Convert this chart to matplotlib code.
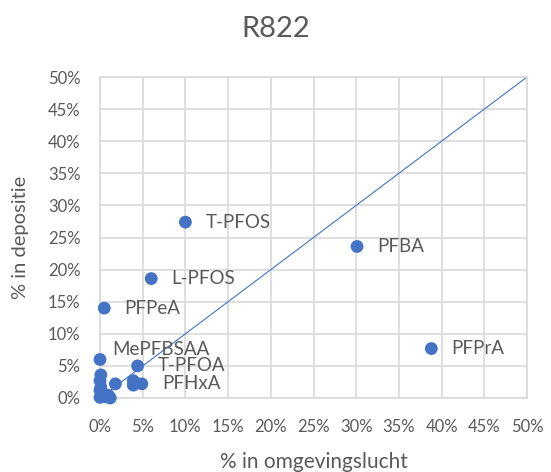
import matplotlib.pyplot as plt
from matplotlib.ticker import PercentFormatter, MultipleLocator

# Aandeel per stof: omgevingslucht (x) tegen depositie (y), in procent
stoffen = ["T-PFOS", "PFBA", "L-PFOS", "PFPeA", "PFPrA", "MePFBSAA", "T-PFOA", "PFHxA"]
lucht_gelabeld = [10.0, 30.1, 6.0, 0.5, 38.8, 0.0, 4.4, 4.9]
depositie_gelabeld = [27.4, 23.6, 18.6, 14.0, 7.7, 6.0, 5.0, 2.2]

# Overige stoffen zonder label (cluster rond de oorsprong)
lucht_overig = [0.1, 0.0, 1.8, 3.9, 3.9, 0.0, 0.2, 1.0, 0.1, 0.0, 1.2, 0.6, 0.3]
depositie_overig = [3.6, 2.7, 2.2, 2.7, 2.0, 1.2, 0.4, 0.4, 1.7, 0.1, 0.0, 0.2, 0.8]

# Verschuiving van de labels t.o.v. de punt (pixels)
label_offset = {"MePFBSAA": (12, 10)}

BLAUW = "#4472C4"
GRIJS = "#595959"
RASTER = "#D9D9D9"

plt.rcParams["font.family"] = ["Lato", "DejaVu Sans"]

fig = plt.figure(figsize=(5.51, 4.72), dpi=100)
ax = fig.add_axes([100 / 551, 1 - 398 / 472, 427 / 551, 321 / 472])

# diagonaal y = x
ax.plot([0, 50], [0, 50], color=BLAUW, linewidth=0.8, zorder=2)

x_all = lucht_gelabeld + lucht_overig
y_all = depositie_gelabeld + depositie_overig
ax.scatter(x_all, y_all, s=85, color=BLAUW, edgecolors="none", zorder=3, clip_on=False)

px = 0.72  # punten per pixel bij 100 dpi
for naam, x, y in zip(stoffen, lucht_gelabeld, depositie_gelabeld):
    dx, dy = label_offset.get(naam, (20, 0))
    ax.annotate(naam, (x, y), xytext=(dx * px, dy * px), textcoords="offset points",
                ha="left", va="center", fontsize=13.5, color=GRIJS, zorder=4,
                annotation_clip=False)

ax.set_xlim(0, 50)
ax.set_ylim(0, 50)
ax.xaxis.set_major_locator(MultipleLocator(5))
ax.yaxis.set_major_locator(MultipleLocator(5))
ax.xaxis.set_major_formatter(PercentFormatter(decimals=0))
ax.yaxis.set_major_formatter(PercentFormatter(decimals=0))
ax.tick_params(length=0, labelsize=12, labelcolor=GRIJS)
ax.tick_params(axis="y", pad=14)
ax.tick_params(axis="x", pad=15)

ax.grid(True, color=RASTER, linewidth=1.2, zorder=0)
ax.set_axisbelow(True)
for spine in ax.spines.values():
    spine.set_color(RASTER)
    spine.set_linewidth(1.2)

ax.set_xlabel("% in omgevingslucht", fontsize=15, color=GRIJS)
ax.set_ylabel("% in depositie", fontsize=14.5, color=GRIJS)
ax.xaxis.set_label_coords(0.5, (398 - 462) / 321)
ax.yaxis.set_label_coords((20.7 - 100) / 427, 0.5)
ax.xaxis.label.set_va("center")
ax.yaxis.label.set_va("center")

fig.text(0.5, 1 - 29 / 472, "R822", ha="center", va="center", fontsize=21, color=GRIJS)

fig.savefig("out.png", dpi=100, facecolor="white")
